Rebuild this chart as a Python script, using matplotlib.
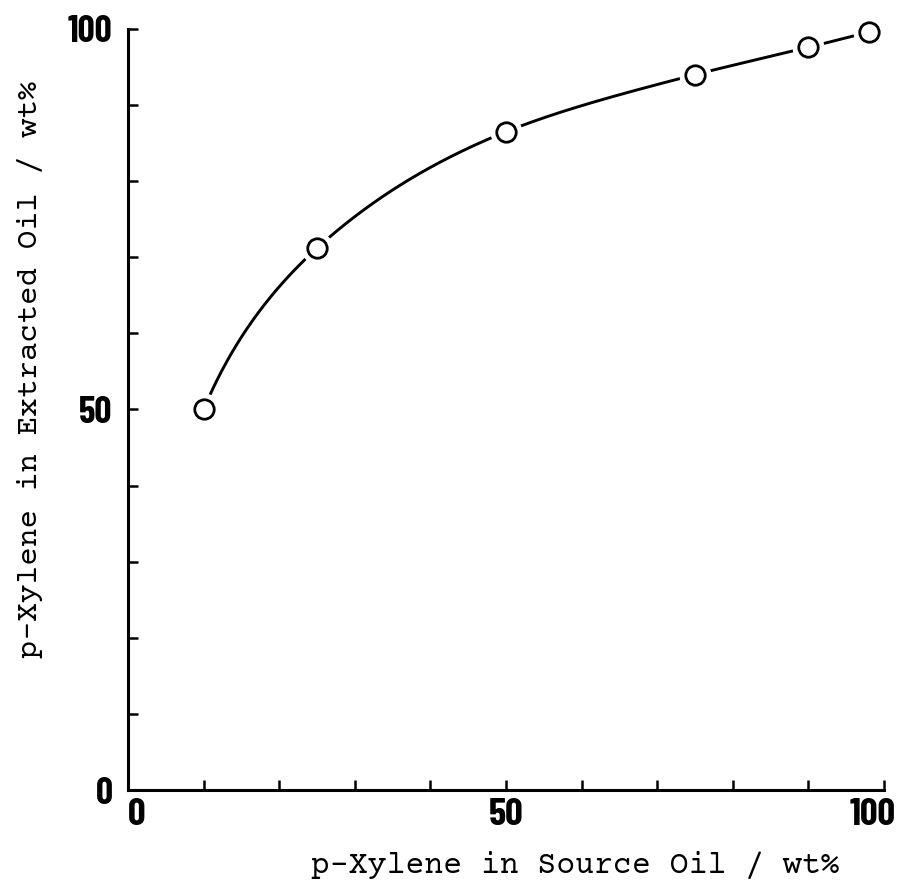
import numpy as np
import matplotlib.pyplot as plt
from matplotlib.ticker import MultipleLocator
from matplotlib.transforms import ScaledTranslation

# data
source_wt = [10, 25, 50, 75, 90, 98]
extracted_wt = [50.0, 71.2, 86.5, 94.0, 97.6, 99.6]
tick_vals = [0, 50, 100]
tick_labels = ["0", "50", "100"]

num_font = ["Barlow Condensed", "Roboto Condensed", "DejaVu Sans"]
mono_font = ["Courier Prime", "Liberation Mono", "DejaVu Sans Mono"]


def pchip(x, y, xs):
    # monotone cubic curve through the points (Fritsch-Carlson)
    x = np.asarray(x, float)
    y = np.asarray(y, float)
    h = np.diff(x)
    d = np.diff(y) / h
    m = np.zeros_like(y)
    for k in range(1, len(x) - 1):
        if d[k - 1] * d[k] > 0:
            w1 = 2 * h[k] + h[k - 1]
            w2 = h[k] + 2 * h[k - 1]
            m[k] = (w1 + w2) / (w1 / d[k - 1] + w2 / d[k])
    m[0] = ((2 * h[0] + h[1]) * d[0] - h[0] * d[1]) / (h[0] + h[1])
    m[-1] = ((2 * h[-1] + h[-2]) * d[-1] - h[-1] * d[-2]) / (h[-1] + h[-2])
    idx = np.clip(np.searchsorted(x, xs) - 1, 0, len(x) - 2)
    t = (xs - x[idx]) / h[idx]
    h00 = 2 * t**3 - 3 * t**2 + 1
    h10 = t**3 - 2 * t**2 + t
    h01 = -2 * t**3 + 3 * t**2
    h11 = t**3 - t**2
    return h00 * y[idx] + h10 * h[idx] * m[idx] + h01 * y[idx + 1] + h11 * h[idx] * m[idx + 1]


fig = plt.figure(figsize=(9.05, 8.8), dpi=100)
ax = fig.add_axes([128 / 905, 90 / 880, 756 / 905, 761 / 880])

# smooth curve drawn in log-x space so it stays concave like the hand-drawn one
lx = np.log(source_wt)
xs = np.linspace(lx[0], lx[-1], 400)
ax.plot(np.exp(xs), pchip(lx, extracted_wt, xs), color="black", lw=2.1, zorder=2, clip_on=False)
ax.plot(source_wt, extracted_wt, "o", ms=23, mfc="white", mec="none", zorder=3, clip_on=False)
ax.plot(source_wt, extracted_wt, "o", ms=14, mfc="white", mec="black", mew=2.0, zorder=4, clip_on=False)

ax.set_xlim(0, 100)
ax.set_ylim(0, 100)
ax.set_xticks(tick_vals)
ax.set_xticklabels(tick_labels)
ax.set_yticks(tick_vals)
ax.set_yticklabels(tick_labels)
ax.xaxis.set_minor_locator(MultipleLocator(10))
ax.yaxis.set_minor_locator(MultipleLocator(10))
ax.tick_params(which="both", direction="in", length=7, width=1.8)
ax.tick_params(axis="x", which="major", pad=6)
ax.tick_params(axis="y", which="major", pad=11)
for lab in ax.get_xticklabels():
    lab.set_fontfamily(num_font)
    lab.set_fontweight("bold")
    lab.set_fontsize(28)
for lab in ax.get_yticklabels():
    lab.set_fontfamily(num_font)
    lab.set_fontweight("bold")
    lab.set_fontsize(27)
xlabs = ax.get_xticklabels()
xlabs[0].set_ha("left")
# pull the "100" label in a little so it stays inside the figure
xlabs[-1].set_transform(xlabs[-1].get_transform() + ScaledTranslation(-0.11, 0, fig.dpi_scale_trans))

for side in ["top", "right"]:
    ax.spines[side].set_visible(False)
for side in ["left", "bottom"]:
    ax.spines[side].set_linewidth(2.2)

fig.text(575 / 905, 1 - 865 / 880, "p-Xylene in Source Oil / wt%",
         family=mono_font, fontsize=22.7, ha="center", va="center")
fig.text(30 / 905, 1 - 369 / 880, "p-Xylene in Extracted Oil / wt%",
         family=mono_font, fontsize=22.3, ha="center", va="center", rotation=90)

fig.savefig("out.png", dpi=100)
